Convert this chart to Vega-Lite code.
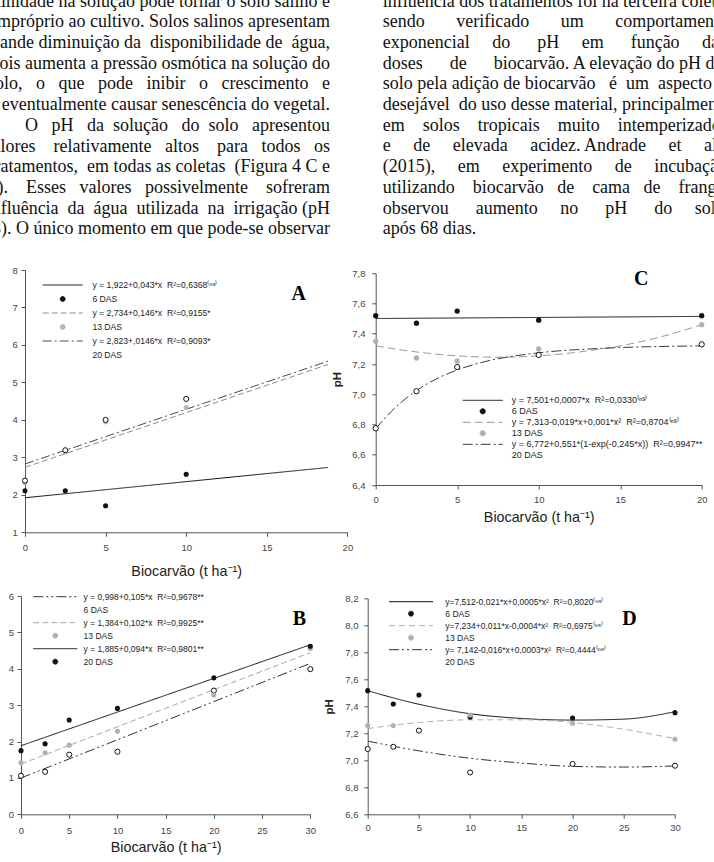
{
  "$schema": "https://vega.github.io/schema/vega-lite/v6.json",
  "padding": 0,
  "background": "white",
  "config": {
    "view": {"stroke": null},
    "axis": {"grid": false, "domainColor": "#555", "domainWidth": 1, "tickColor": "#555", "tickWidth": 1, "tickSize": 4, "labelFont": "Liberation Sans", "labelFontSize": 9.5, "labelColor": "#444", "labelFlush": false, "labelOverlap": false, "titleFont": "Liberation Sans", "titleFontSize": 14.3, "titleFontWeight": "normal", "titleColor": "#222"},
    "axisY": {"titleFontWeight": "bold", "titleFontSize": 11.5, "titleColor": "#222", "labelOverlap": false},
    "axisQuantitative": {"labelOverlap": false},
    "legend": {"orient": "none", "columns": 1, "padding": 0, "rowPadding": 0, "labelFont": "Liberation Sans", "labelColor": "#222", "labelLimit": 500, "symbolStrokeWidth": 1}
  },
  "datasets": {
    "textL": [
      {"col": "L", "line": 1, "text": "salinidade na solução pode tornar o solo salino e"},
      {"col": "L", "line": 2, "text": "impróprio ao cultivo. Solos salinos apresentam"},
      {"col": "L", "line": 3, "text": "grande diminuição da\u00a0\u00a0disponibilidade de\u00a0\u00a0água,"},
      {"col": "L", "line": 4, "text": "pois aumenta a pressão osmótica na solução do"},
      {"col": "L", "line": 5, "text": "solo,\u00a0\u00a0\u00a0o\u00a0\u00a0\u00a0que\u00a0\u00a0\u00a0pode\u00a0\u00a0\u00a0inibir\u00a0\u00a0\u00a0o\u00a0\u00a0\u00a0crescimento\u00a0\u00a0\u00a0e"},
      {"col": "L", "line": 6, "text": "eventualmente causar senescência do vegetal.\u00a0\u00a0\u00a0\u00a0"},
      {"col": "L", "line": 7, "text": "O\u00a0\u00a0\u00a0pH\u00a0\u00a0\u00a0da\u00a0\u00a0solução\u00a0\u00a0\u00a0do\u00a0\u00a0solo\u00a0\u00a0\u00a0apresentou"},
      {"col": "L", "line": 8, "text": "valores\u00a0\u00a0\u00a0\u00a0relativamente\u00a0\u00a0\u00a0altos\u00a0\u00a0\u00a0\u00a0para\u00a0\u00a0\u00a0todos\u00a0\u00a0\u00a0os"},
      {"col": "L", "line": 9, "text": "tratamentos,\u00a0\u00a0em todas as coletas\u00a0\u00a0(Figura 4 C e"},
      {"col": "L", "line": 10, "text": "D).\u00a0\u00a0\u00a0\u00a0Esses\u00a0\u00a0\u00a0valores\u00a0\u00a0\u00a0possivelmente\u00a0\u00a0\u00a0\u00a0sofreram"},
      {"col": "L", "line": 11, "text": "influência\u00a0\u00a0da\u00a0\u00a0água\u00a0\u00a0utilizada\u00a0\u00a0na\u00a0\u00a0irrigação (pH"},
      {"col": "L", "line": 12, "text": "7,3). O único momento em que pode-se observar"}
    ],
    "textR": [
      {"col": "R", "line": 1, "text": "influência dos tratamentos foi na terceira coleta,"},
      {"col": "R", "line": 2, "text": "sendo\u00a0\u00a0\u00a0\u00a0\u00a0\u00a0\u00a0verificado\u00a0\u00a0\u00a0\u00a0\u00a0\u00a0\u00a0um\u00a0\u00a0\u00a0\u00a0\u00a0\u00a0\u00a0comportamento"},
      {"col": "R", "line": 3, "text": "exponencial\u00a0\u00a0\u00a0\u00a0\u00a0do\u00a0\u00a0\u00a0\u00a0\u00a0\u00a0pH\u00a0\u00a0\u00a0\u00a0\u00a0em\u00a0\u00a0\u00a0\u00a0\u00a0\u00a0função\u00a0\u00a0\u00a0\u00a0\u00a0das"},
      {"col": "R", "line": 4, "text": "doses\u00a0\u00a0\u00a0\u00a0\u00a0\u00a0de\u00a0\u00a0\u00a0\u00a0\u00a0\u00a0biocarvão. A elevação do pH do"},
      {"col": "R", "line": 5, "text": "solo pela adição de biocarvão\u00a0\u00a0\u00a0é\u00a0\u00a0um\u00a0\u00a0aspecto"},
      {"col": "R", "line": 6, "text": "desejável\u00a0\u00a0do uso desse material, principalmente"},
      {"col": "R", "line": 7, "text": "em\u00a0\u00a0\u00a0\u00a0solos\u00a0\u00a0\u00a0\u00a0tropicais\u00a0\u00a0\u00a0\u00a0muito\u00a0\u00a0\u00a0\u00a0intemperizados"},
      {"col": "R", "line": 8, "text": "e\u00a0\u00a0\u00a0\u00a0\u00a0de\u00a0\u00a0\u00a0\u00a0\u00a0elevada\u00a0\u00a0\u00a0\u00a0\u00a0acidez. Andrade\u00a0\u00a0\u00a0\u00a0\u00a0et\u00a0\u00a0\u00a0\u00a0\u00a0al."},
      {"col": "R", "line": 9, "text": "(2015),\u00a0\u00a0\u00a0\u00a0\u00a0em\u00a0\u00a0\u00a0\u00a0\u00a0experimento\u00a0\u00a0\u00a0\u00a0\u00a0de\u00a0\u00a0\u00a0\u00a0\u00a0incubação"},
      {"col": "R", "line": 10, "text": "utilizando\u00a0\u00a0\u00a0\u00a0biocarvão\u00a0\u00a0\u00a0de\u00a0\u00a0\u00a0\u00a0cama\u00a0\u00a0\u00a0de\u00a0\u00a0\u00a0\u00a0frango"},
      {"col": "R", "line": 11, "text": "observou\u00a0\u00a0\u00a0\u00a0\u00a0\u00a0aumento\u00a0\u00a0\u00a0\u00a0\u00a0no\u00a0\u00a0\u00a0\u00a0\u00a0\u00a0pH\u00a0\u00a0\u00a0\u00a0\u00a0\u00a0do\u00a0\u00a0\u00a0\u00a0\u00a0solo"},
      {"col": "R", "line": 12, "text": "após 68 dias."}
    ],
    "aFit": [
      {"series": "y = 1,922+0,043*x\u00a0\u00a0R²=0,6368⁽ⁿˢ⁾", "x": 0, "y": 1.922},
      {"series": "y = 1,922+0,043*x\u00a0\u00a0R²=0,6368⁽ⁿˢ⁾", "x": 18.8, "y": 2.73},
      {"series": "y = 2,734+0,146*x\u00a0\u00a0R²=0,9155*", "x": 0, "y": 2.734},
      {"series": "y = 2,734+0,146*x\u00a0\u00a0R²=0,9155*", "x": 18.8, "y": 5.479},
      {"series": "y = 2,823+,0146*x\u00a0\u00a0R²=0,9093*", "x": 0, "y": 2.823},
      {"series": "y = 2,823+,0146*x\u00a0\u00a0R²=0,9093*", "x": 18.8, "y": 5.568}
    ],
    "aPts": [
      {"series": "6 DAS", "x": 0, "y": 2.11}, {"series": "6 DAS", "x": 2.5, "y": 2.11}, {"series": "6 DAS", "x": 5, "y": 1.71}, {"series": "6 DAS", "x": 10, "y": 2.55},
      {"series": "13 DAS", "x": 0, "y": 2.33}, {"series": "13 DAS", "x": 2.5, "y": 3.15}, {"series": "13 DAS", "x": 5, "y": 3.95}, {"series": "13 DAS", "x": 10, "y": 4.33},
      {"series": "20 DAS", "x": 0, "y": 2.38}, {"series": "20 DAS", "x": 2.5, "y": 3.19}, {"series": "20 DAS", "x": 5, "y": 4.0}, {"series": "20 DAS", "x": 10, "y": 4.56}
    ],
    "cFit": [
      {"series": "y = 7,501+0,0007*x\u00a0\u00a0R²=0,0330⁽ⁿˢ⁾", "x": 0, "y": 7.501},
      {"series": "y = 7,501+0,0007*x\u00a0\u00a0R²=0,0330⁽ⁿˢ⁾", "x": 20, "y": 7.515},
      {"series": "y = 7,313-0,019*x+0,001*x²\u00a0\u00a0R²=0,8704⁽ⁿˢ⁾", "x": 0, "y": 7.32},
      {"series": "y = 7,313-0,019*x+0,001*x²\u00a0\u00a0R²=0,8704⁽ⁿˢ⁾", "x": 2.5, "y": 7.28},
      {"series": "y = 7,313-0,019*x+0,001*x²\u00a0\u00a0R²=0,8704⁽ⁿˢ⁾", "x": 5, "y": 7.254},
      {"series": "y = 7,313-0,019*x+0,001*x²\u00a0\u00a0R²=0,8704⁽ⁿˢ⁾", "x": 7.5, "y": 7.245},
      {"series": "y = 7,313-0,019*x+0,001*x²\u00a0\u00a0R²=0,8704⁽ⁿˢ⁾", "x": 10, "y": 7.254},
      {"series": "y = 7,313-0,019*x+0,001*x²\u00a0\u00a0R²=0,8704⁽ⁿˢ⁾", "x": 12.5, "y": 7.28},
      {"series": "y = 7,313-0,019*x+0,001*x²\u00a0\u00a0R²=0,8704⁽ⁿˢ⁾", "x": 15, "y": 7.32},
      {"series": "y = 7,313-0,019*x+0,001*x²\u00a0\u00a0R²=0,8704⁽ⁿˢ⁾", "x": 17.5, "y": 7.38},
      {"series": "y = 7,313-0,019*x+0,001*x²\u00a0\u00a0R²=0,8704⁽ⁿˢ⁾", "x": 20, "y": 7.46},
      {"series": "y = 6,772+0,551*(1-exp(-0,245*x))\u00a0\u00a0R²=0,9947**", "x": 0, "y": 6.772},
      {"series": "y = 6,772+0,551*(1-exp(-0,245*x))\u00a0\u00a0R²=0,9947**", "x": 1, "y": 6.892},
      {"series": "y = 6,772+0,551*(1-exp(-0,245*x))\u00a0\u00a0R²=0,9947**", "x": 2, "y": 6.985},
      {"series": "y = 6,772+0,551*(1-exp(-0,245*x))\u00a0\u00a0R²=0,9947**", "x": 3, "y": 7.059},
      {"series": "y = 6,772+0,551*(1-exp(-0,245*x))\u00a0\u00a0R²=0,9947**", "x": 4, "y": 7.116},
      {"series": "y = 6,772+0,551*(1-exp(-0,245*x))\u00a0\u00a0R²=0,9947**", "x": 5, "y": 7.161},
      {"series": "y = 6,772+0,551*(1-exp(-0,245*x))\u00a0\u00a0R²=0,9947**", "x": 6, "y": 7.196},
      {"series": "y = 6,772+0,551*(1-exp(-0,245*x))\u00a0\u00a0R²=0,9947**", "x": 7.5, "y": 7.235},
      {"series": "y = 6,772+0,551*(1-exp(-0,245*x))\u00a0\u00a0R²=0,9947**", "x": 9, "y": 7.261},
      {"series": "y = 6,772+0,551*(1-exp(-0,245*x))\u00a0\u00a0R²=0,9947**", "x": 11, "y": 7.285},
      {"series": "y = 6,772+0,551*(1-exp(-0,245*x))\u00a0\u00a0R²=0,9947**", "x": 13, "y": 7.299},
      {"series": "y = 6,772+0,551*(1-exp(-0,245*x))\u00a0\u00a0R²=0,9947**", "x": 15, "y": 7.309},
      {"series": "y = 6,772+0,551*(1-exp(-0,245*x))\u00a0\u00a0R²=0,9947**", "x": 17.5, "y": 7.316},
      {"series": "y = 6,772+0,551*(1-exp(-0,245*x))\u00a0\u00a0R²=0,9947**", "x": 20, "y": 7.32}
    ],
    "cPts": [
      {"series": "6 DAS", "x": 0, "y": 7.52}, {"series": "6 DAS", "x": 2.5, "y": 7.47}, {"series": "6 DAS", "x": 5, "y": 7.55}, {"series": "6 DAS", "x": 10, "y": 7.49}, {"series": "6 DAS", "x": 20, "y": 7.52},
      {"series": "13 DAS", "x": 0, "y": 7.35}, {"series": "13 DAS", "x": 2.5, "y": 7.24}, {"series": "13 DAS", "x": 5, "y": 7.22}, {"series": "13 DAS", "x": 10, "y": 7.3}, {"series": "13 DAS", "x": 20, "y": 7.46},
      {"series": "20 DAS", "x": 0, "y": 6.775}, {"series": "20 DAS", "x": 2.5, "y": 7.02}, {"series": "20 DAS", "x": 5, "y": 7.18}, {"series": "20 DAS", "x": 10, "y": 7.26}, {"series": "20 DAS", "x": 20, "y": 7.33}
    ],
    "bFit": [
      {"series": "y = 0,998+0,105*x\u00a0\u00a0R²=0,9678**", "x": 0, "y": 0.998},
      {"series": "y = 0,998+0,105*x\u00a0\u00a0R²=0,9678**", "x": 30, "y": 4.148},
      {"series": "y = 1,384+0,102*x\u00a0\u00a0R²=0,9925**", "x": 0, "y": 1.384},
      {"series": "y = 1,384+0,102*x\u00a0\u00a0R²=0,9925**", "x": 30, "y": 4.444},
      {"series": "y = 1,885+0,094*x\u00a0\u00a0R²=0,9801**", "x": 0, "y": 1.885},
      {"series": "y = 1,885+0,094*x\u00a0\u00a0R²=0,9801**", "x": 30, "y": 4.66}
    ],
    "bPts": [
      {"series": "6 DAS", "x": 0, "y": 1.06}, {"series": "6 DAS", "x": 2.5, "y": 1.17}, {"series": "6 DAS", "x": 5, "y": 1.64}, {"series": "6 DAS", "x": 10, "y": 1.72}, {"series": "6 DAS", "x": 20, "y": 3.4}, {"series": "6 DAS", "x": 30, "y": 3.99},
      {"series": "13 DAS", "x": 0, "y": 1.42}, {"series": "13 DAS", "x": 2.5, "y": 1.69}, {"series": "13 DAS", "x": 5, "y": 1.9}, {"series": "13 DAS", "x": 10, "y": 2.28}, {"series": "13 DAS", "x": 20, "y": 3.28}, {"series": "13 DAS", "x": 30, "y": 4.56},
      {"series": "20 DAS", "x": 0, "y": 1.75}, {"series": "20 DAS", "x": 2.5, "y": 1.94}, {"series": "20 DAS", "x": 5, "y": 2.59}, {"series": "20 DAS", "x": 10, "y": 2.91}, {"series": "20 DAS", "x": 20, "y": 3.75}, {"series": "20 DAS", "x": 30, "y": 4.62}
    ],
    "dFit": [
      {"series": "y=7,512-0,021*x+0,0005*x²\u00a0\u00a0R²=0,8020⁽ⁿˢ⁾", "x": 0, "y": 7.515},
      {"series": "y=7,512-0,021*x+0,0005*x²\u00a0\u00a0R²=0,8020⁽ⁿˢ⁾", "x": 5, "y": 7.415},
      {"series": "y=7,512-0,021*x+0,0005*x²\u00a0\u00a0R²=0,8020⁽ⁿˢ⁾", "x": 10, "y": 7.345},
      {"series": "y=7,512-0,021*x+0,0005*x²\u00a0\u00a0R²=0,8020⁽ⁿˢ⁾", "x": 15, "y": 7.31},
      {"series": "y=7,512-0,021*x+0,0005*x²\u00a0\u00a0R²=0,8020⁽ⁿˢ⁾", "x": 20, "y": 7.298},
      {"series": "y=7,512-0,021*x+0,0005*x²\u00a0\u00a0R²=0,8020⁽ⁿˢ⁾", "x": 25, "y": 7.305},
      {"series": "y=7,512-0,021*x+0,0005*x²\u00a0\u00a0R²=0,8020⁽ⁿˢ⁾", "x": 30, "y": 7.36},
      {"series": "y=7,234+0,011*x-0,0004*x²\u00a0\u00a0R²=0,6975⁽ⁿˢ⁾", "x": 0, "y": 7.235},
      {"series": "y=7,234+0,011*x-0,0004*x²\u00a0\u00a0R²=0,6975⁽ⁿˢ⁾", "x": 5, "y": 7.28},
      {"series": "y=7,234+0,011*x-0,0004*x²\u00a0\u00a0R²=0,6975⁽ⁿˢ⁾", "x": 10, "y": 7.3},
      {"series": "y=7,234+0,011*x-0,0004*x²\u00a0\u00a0R²=0,6975⁽ⁿˢ⁾", "x": 15, "y": 7.3},
      {"series": "y=7,234+0,011*x-0,0004*x²\u00a0\u00a0R²=0,6975⁽ⁿˢ⁾", "x": 20, "y": 7.28},
      {"series": "y=7,234+0,011*x-0,0004*x²\u00a0\u00a0R²=0,6975⁽ⁿˢ⁾", "x": 25, "y": 7.23},
      {"series": "y=7,234+0,011*x-0,0004*x²\u00a0\u00a0R²=0,6975⁽ⁿˢ⁾", "x": 30, "y": 7.16},
      {"series": "y= 7,142-0,016*x+0,0003*x²\u00a0\u00a0R²=0,4444⁽ⁿˢ⁾", "x": 0, "y": 7.142},
      {"series": "y= 7,142-0,016*x+0,0003*x²\u00a0\u00a0R²=0,4444⁽ⁿˢ⁾", "x": 5, "y": 7.07},
      {"series": "y= 7,142-0,016*x+0,0003*x²\u00a0\u00a0R²=0,4444⁽ⁿˢ⁾", "x": 10, "y": 7.015},
      {"series": "y= 7,142-0,016*x+0,0003*x²\u00a0\u00a0R²=0,4444⁽ⁿˢ⁾", "x": 15, "y": 6.98},
      {"series": "y= 7,142-0,016*x+0,0003*x²\u00a0\u00a0R²=0,4444⁽ⁿˢ⁾", "x": 20, "y": 6.955},
      {"series": "y= 7,142-0,016*x+0,0003*x²\u00a0\u00a0R²=0,4444⁽ⁿˢ⁾", "x": 25, "y": 6.95},
      {"series": "y= 7,142-0,016*x+0,0003*x²\u00a0\u00a0R²=0,4444⁽ⁿˢ⁾", "x": 30, "y": 6.958}
    ],
    "dPts": [
      {"series": "6 DAS", "x": 0, "y": 7.516}, {"series": "6 DAS", "x": 2.5, "y": 7.417}, {"series": "6 DAS", "x": 5, "y": 7.484}, {"series": "6 DAS", "x": 10, "y": 7.32}, {"series": "6 DAS", "x": 20, "y": 7.313}, {"series": "6 DAS", "x": 30, "y": 7.353},
      {"series": "13 DAS", "x": 0, "y": 7.257}, {"series": "13 DAS", "x": 2.5, "y": 7.257}, {"series": "13 DAS", "x": 5, "y": 7.22}, {"series": "13 DAS", "x": 10, "y": 7.336}, {"series": "13 DAS", "x": 20, "y": 7.274}, {"series": "13 DAS", "x": 30, "y": 7.156},
      {"series": "20 DAS", "x": 0, "y": 7.084}, {"series": "20 DAS", "x": 2.5, "y": 7.1}, {"series": "20 DAS", "x": 5, "y": 7.22}, {"series": "20 DAS", "x": 10, "y": 6.91}, {"series": "20 DAS", "x": 20, "y": 6.973}, {"series": "20 DAS", "x": 30, "y": 6.96}
    ]
  },
  "spacing": -36.3,
  "resolve": {"scale": {"color": "independent", "strokeDash": "independent"}, "legend": {"color": "independent", "strokeDash": "independent"}},
  "hconcat": [
    {
      "spacing": 10,
      "resolve": {"scale": {"color": "independent", "strokeDash": "independent"}, "legend": {"color": "independent", "strokeDash": "independent"}},
      "vconcat": [
        {
          "width": 360,
          "height": 255,
          "data": {"name": "textL"},
          "mark": {"type": "text", "align": "right", "baseline": "alphabetic", "font": "Liberation Serif", "fontSize": 18, "color": "#111", "clip": true},
          "encoding": {
            "x": {"field": "col", "type": "nominal", "scale": {"type": "point", "align": 0.916667, "padding": 0}, "axis": null},
            "y": {"field": "line", "type": "ordinal", "scale": {"type": "point", "padding": 0.6594, "align": 0.2418}, "axis": null},
            "text": {"field": "text", "type": "nominal"}
          }
        },
        {
          "bounds": "flush",
          "spacing": 0,
          "resolve": {"scale": {"color": "independent", "strokeDash": "independent"}, "legend": {"color": "independent", "strokeDash": "independent"}},
          "hconcat": [
            {"width": 24.3, "height": 1, "data": {"values": []}, "mark": "point"},
            {
              "width": 322.4,
              "height": 262.3,
              "resolve": {"axis": {"x": "independent"}},
              "layer": [
                {
                  "data": {"name": "aFit"},
                  "mark": {"type": "line", "strokeWidth": 1, "interpolate": "monotone"},
                  "encoding": {
                    "x": {"field": "x", "type": "quantitative", "scale": {"domain": [0, 20], "nice": false}, "axis": {"values": [0, 5, 10, 15, 20], "labelOverlap": false, "title": "Biocarvão (t ha⁻¹)", "labelPadding": 6, "titlePadding": 13}},
                    "y": {"field": "y", "type": "quantitative", "scale": {"domain": [1, 8], "nice": false, "zero": false}, "axis": {"values": [1, 2, 3, 4, 5, 6, 7, 8], "labelOverlap": false, "title": null, "labelPadding": 3.6}},
                    "color": {
                      "field": "series", "type": "nominal",
                      "scale": {"domain": ["y = 1,922+0,043*x\u00a0\u00a0R²=0,6368⁽ⁿˢ⁾", "6 DAS", "y = 2,734+0,146*x\u00a0\u00a0R²=0,9155*", "13 DAS", "y = 2,823+,0146*x\u00a0\u00a0R²=0,9093*", "20 DAS"], "range": ["#111111", "#111111", "#8c8c8c", "#b4b4b4", "#4a4a4a", "#ffffff"]},
                      "legend": {
                        "title": null, "legendX": 17.2, "legendY": 8.4, "clipHeight": 13.2, "labelOffset": 9.2, "labelFontSize": 8.6, "symbolSize": 1600,
                        "encode": {"symbols": {"update": {
                          "shape": {"signal": "datum.index % 2 == 1 ? 'circle' : 'stroke'"},
                          "size": {"signal": "datum.index % 2 == 1 ? 24 : 1600"},
                          "fill": {"signal": "['transparent','#111111','transparent','#b4b4b4','transparent','#ffffff'][datum.index]"},
                          "stroke": {"signal": "['#111111','#111111','#8c8c8c','#b4b4b4','#4a4a4a','#111111'][datum.index]"},
                          "strokeDash": {"signal": "[[1,0],[1,0],[6,3],[1,0],[9,3,2,3],[1,0]][datum.index]"},
                          "strokeWidth": {"value": 1},
                          "opacity": {"value": 1}
                        }}}
                      }
                    },
                    "strokeDash": {"field": "series", "type": "nominal", "scale": {"domain": ["y = 1,922+0,043*x\u00a0\u00a0R²=0,6368⁽ⁿˢ⁾", "y = 2,734+0,146*x\u00a0\u00a0R²=0,9155*", "y = 2,823+,0146*x\u00a0\u00a0R²=0,9093*"], "range": [[1, 0], [6, 3], [9, 3, 2, 3]]}, "legend": null}
                  }
                },
                {
                  "data": {"name": "aPts"},
                  "mark": {"type": "point", "filled": true, "size": 26, "stroke": "#111111", "opacity": 1},
                  "encoding": {
                    "x": {"field": "x", "type": "quantitative", "axis": {"orient": "top", "domain": false, "ticks": false, "labels": false, "title": "A", "titleX": 273.2, "titleY": 23, "titleAngle": 0, "titleAlign": "center", "titleBaseline": "middle", "titleFont": "Liberation Serif", "titleFontSize": 20, "titleFontWeight": "bold", "titleColor": "#000"}},
                    "y": {"field": "y", "type": "quantitative", "axis": {"values": [1, 2, 3, 4, 5, 6, 7, 8], "labelOverlap": false, "title": null, "labelPadding": 3.6}},
                    "color": {"field": "series", "type": "nominal"},
                    "strokeWidth": {"condition": {"test": "datum.series == '20 DAS'", "value": 1}, "value": 0}
                  }
                }
              ]
            }
          ]
        },
        {
          "bounds": "flush",
          "spacing": 0,
          "resolve": {"scale": {"color": "independent", "strokeDash": "independent"}, "legend": {"color": "independent", "strokeDash": "independent"}},
          "hconcat": [
            {"width": 20.7, "height": 1, "data": {"values": []}, "mark": "point"},
            {
              "width": 289.3,
              "height": 218.3,
              "resolve": {"axis": {"x": "independent"}},
              "layer": [
                {
                  "data": {"name": "bFit"},
                  "mark": {"type": "line", "strokeWidth": 1, "interpolate": "monotone"},
                  "encoding": {
                    "x": {"field": "x", "type": "quantitative", "scale": {"domain": [0, 30], "nice": false}, "axis": {"values": [0, 5, 10, 15, 20, 25, 30], "labelOverlap": false, "title": "Biocarvão (t ha⁻¹)", "labelPadding": 7, "titlePadding": 6}},
                    "y": {"field": "y", "type": "quantitative", "scale": {"domain": [0, 6], "nice": false}, "axis": {"values": [0, 1, 2, 3, 4, 5, 6], "labelOverlap": false, "title": null, "labelPadding": 3.4}},
                    "color": {
                      "field": "series", "type": "nominal",
                      "scale": {"domain": ["y = 0,998+0,105*x\u00a0\u00a0R²=0,9678**", "6 DAS", "y = 1,384+0,102*x\u00a0\u00a0R²=0,9925**", "13 DAS", "y = 1,885+0,094*x\u00a0\u00a0R²=0,9801**", "20 DAS"], "range": ["#333333", "#ffffff", "#a8a8a8", "#b0b0b0", "#111111", "#111111"]},
                      "legend": {
                        "title": null, "legendX": 11.8, "legendY": -5.7, "clipHeight": 12.8, "labelOffset": 5.8, "labelFontSize": 8.5, "symbolSize": 1936,
                        "encode": {"symbols": {"update": {
                          "shape": {"signal": "datum.index % 2 == 1 ? 'circle' : 'stroke'"},
                          "size": {"signal": "datum.index % 2 == 1 ? 24 : 1936"},
                          "fill": {"signal": "['transparent','#ffffff','transparent','#b0b0b0','transparent','#111111'][datum.index]"},
                          "stroke": {"signal": "['#333333','#111111','#a8a8a8','#b0b0b0','#111111','#111111'][datum.index]"},
                          "strokeDash": {"signal": "[[10,3,2,3,2,3],[1,0],[6,3],[1,0],[1,0],[1,0]][datum.index]"},
                          "strokeWidth": {"value": 1},
                          "opacity": {"value": 1}
                        }}}
                      }
                    },
                    "strokeDash": {"field": "series", "type": "nominal", "scale": {"domain": ["y = 0,998+0,105*x\u00a0\u00a0R²=0,9678**", "y = 1,384+0,102*x\u00a0\u00a0R²=0,9925**", "y = 1,885+0,094*x\u00a0\u00a0R²=0,9801**"], "range": [[10, 3, 2, 3, 2, 3], [6, 3], [1, 0]]}, "legend": null}
                  }
                },
                {
                  "data": {"name": "bPts"},
                  "mark": {"type": "point", "filled": true, "size": 26, "stroke": "#111111", "opacity": 1},
                  "encoding": {
                    "x": {"field": "x", "type": "quantitative", "axis": {"orient": "top", "domain": false, "ticks": false, "labels": false, "title": "B", "titleX": 277.8, "titleY": 22.3, "titleAngle": 0, "titleAlign": "center", "titleBaseline": "middle", "titleFont": "Liberation Serif", "titleFontSize": 20, "titleFontWeight": "bold", "titleColor": "#000"}},
                    "y": {"field": "y", "type": "quantitative", "axis": {"values": [0, 1, 2, 3, 4, 5, 6], "labelOverlap": false, "title": null, "labelPadding": 3.4}},
                    "color": {"field": "series", "type": "nominal"},
                    "strokeWidth": {"condition": {"test": "datum.series == '6 DAS'", "value": 1}, "value": 0}
                  }
                }
              ]
            }
          ]
        }
      ]
    },
    {
      "spacing": 27.3,
      "resolve": {"scale": {"color": "independent", "strokeDash": "independent"}, "legend": {"color": "independent", "strokeDash": "independent"}},
      "vconcat": [
        {
          "bounds": "flush",
          "spacing": 0,
          "hconcat": [
            {"width": 14.3, "height": 1, "data": {"values": []}, "mark": "point"},
            {
              "width": 331,
              "height": 240.9,
              "data": {"name": "textR"},
              "mark": {"type": "text", "align": "left", "baseline": "alphabetic", "font": "Liberation Serif", "fontSize": 18, "color": "#111", "clip": true},
              "encoding": {
                "x": {"field": "col", "type": "nominal", "scale": {"type": "point", "align": 0, "padding": 0}, "axis": null},
                "y": {"field": "line", "type": "ordinal", "scale": {"type": "point", "padding": 0.319, "align": 0.5}, "axis": null},
                "text": {"field": "text", "type": "nominal"}
              }
            }
          ]
        },
        {
          "spacing": 68,
          "resolve": {"scale": {"color": "independent", "strokeDash": "independent"}, "legend": {"color": "independent", "strokeDash": "independent"}},
          "vconcat": [
            {
              "bounds": "flush",
              "spacing": 0,
              "resolve": {"scale": {"color": "independent", "strokeDash": "independent"}, "legend": {"color": "independent", "strokeDash": "independent"}},
              "hconcat": [
                {"width": 7.3, "height": 1, "data": {"values": []}, "mark": "point"},
                {
                  "width": 326,
                  "height": 211.7,
                  "resolve": {"axis": {"x": "independent"}},
                  "layer": [
                    {
                      "data": {"name": "cFit"},
                      "mark": {"type": "line", "strokeWidth": 1, "interpolate": "monotone"},
                      "encoding": {
                        "x": {"field": "x", "type": "quantitative", "scale": {"domain": [0, 20], "nice": false}, "axis": {"values": [0, 5, 10, 15, 20], "labelOverlap": false, "title": "Biocarvão (t ha⁻¹)", "labelPadding": 5.2, "titlePadding": 6.8}},
                        "y": {"field": "y", "type": "quantitative", "scale": {"domain": [6.4, 7.8], "nice": false, "zero": false}, "axis": {"values": [6.4, 6.6, 6.8, 7.0, 7.2, 7.4, 7.6, 7.8], "labelOverlap": false, "labelExpr": "replace(format(datum.value, '.1f'), '.', ',')", "title": "pH", "labelPadding": 6.7, "titlePadding": 9}},
                        "color": {
                          "field": "series", "type": "nominal",
                          "scale": {"domain": ["y = 7,501+0,0007*x\u00a0\u00a0R²=0,0330⁽ⁿˢ⁾", "6 DAS", "y = 7,313-0,019*x+0,001*x²\u00a0\u00a0R²=0,8704⁽ⁿˢ⁾", "13 DAS", "y = 6,772+0,551*(1-exp(-0,245*x))\u00a0\u00a0R²=0,9947**", "20 DAS"], "range": ["#111111", "#111111", "#9a9a9a", "#b0b0b0", "#3a3a4a", "#ffffff"]},
                          "legend": {
                            "title": null, "legendX": 86.5, "legendY": 121.65, "clipHeight": 10.74, "labelOffset": 8.5, "labelFontSize": 9, "symbolSize": 1600,
                            "encode": {"symbols": {"update": {
                              "shape": {"signal": "datum.index % 2 == 1 ? 'circle' : 'stroke'"},
                              "size": {"signal": "datum.index % 2 == 1 ? 26 : 1600"},
                              "fill": {"signal": "['transparent','#111111','transparent','#b0b0b0','transparent','#ffffff'][datum.index]"},
                              "stroke": {"signal": "['#111111','#111111','#9a9a9a','#b0b0b0','#3a3a4a','#111111'][datum.index]"},
                              "strokeDash": {"signal": "[[1,0],[1,0],[8,4],[1,0],[10,3,2,3],[1,0]][datum.index]"},
                              "strokeWidth": {"value": 1},
                              "opacity": {"value": 1}
                            }}}
                          }
                        },
                        "strokeDash": {"field": "series", "type": "nominal", "scale": {"domain": ["y = 7,501+0,0007*x\u00a0\u00a0R²=0,0330⁽ⁿˢ⁾", "y = 7,313-0,019*x+0,001*x²\u00a0\u00a0R²=0,8704⁽ⁿˢ⁾", "y = 6,772+0,551*(1-exp(-0,245*x))\u00a0\u00a0R²=0,9947**"], "range": [[1, 0], [8, 4], [10, 3, 2, 3]]}, "legend": null}
                      }
                    },
                    {
                      "data": {"name": "cPts"},
                      "mark": {"type": "point", "filled": true, "size": 28, "stroke": "#111111", "opacity": 1},
                      "encoding": {
                        "x": {"field": "x", "type": "quantitative", "axis": {"orient": "top", "domain": false, "ticks": false, "labels": false, "title": "C", "titleX": 265, "titleY": 5, "titleAngle": 0, "titleAlign": "center", "titleBaseline": "middle", "titleFont": "Liberation Serif", "titleFontSize": 20, "titleFontWeight": "bold", "titleColor": "#000"}},
                        "y": {"field": "y", "type": "quantitative", "axis": {"values": [6.4, 6.6, 6.8, 7.0, 7.2, 7.4, 7.6, 7.8], "labelOverlap": false, "labelExpr": "replace(format(datum.value, '.1f'), '.', ',')", "title": "pH", "labelPadding": 6.7, "titlePadding": 9}},
                        "color": {"field": "series", "type": "nominal"},
                        "strokeWidth": {"condition": {"test": "datum.series == '20 DAS'", "value": 1}, "value": 0}
                      }
                    }
                  ]
                }
              ]
            },
            {
              "width": 307.3,
              "height": 216,
              "resolve": {"axis": {"x": "independent"}},
              "layer": [
                {
                  "data": {"name": "dFit"},
                  "mark": {"type": "line", "strokeWidth": 1, "interpolate": "monotone"},
                  "encoding": {
                    "x": {"field": "x", "type": "quantitative", "scale": {"domain": [0, 30], "nice": false}, "axis": {"values": [0, 5, 10, 15, 20, 25, 30], "labelOverlap": false, "title": null, "labelPadding": 4.3}},
                    "y": {"field": "y", "type": "quantitative", "scale": {"domain": [6.6, 8.2], "nice": false, "zero": false}, "axis": {"values": [6.6, 6.8, 7.0, 7.2, 7.4, 7.6, 7.8, 8.0, 8.2], "labelOverlap": false, "labelExpr": "replace(format(datum.value, '.1f'), '.', ',')", "title": "pH", "labelPadding": 5.7, "titlePadding": 10}},
                    "color": {
                      "field": "series", "type": "nominal",
                      "scale": {"domain": ["y=7,512-0,021*x+0,0005*x²\u00a0\u00a0R²=0,8020⁽ⁿˢ⁾", "6 DAS", "y=7,234+0,011*x-0,0004*x²\u00a0\u00a0R²=0,6975⁽ⁿˢ⁾", "13 DAS", "y= 7,142-0,016*x+0,0003*x²\u00a0\u00a0R²=0,4444⁽ⁿˢ⁾", "20 DAS"], "range": ["#111111", "#111111", "#b0b0b0", "#b0b0b0", "#333333", "#ffffff"]},
                      "legend": {
                        "title": null, "legendX": 20.8, "legendY": -2.26, "clipHeight": 11.32, "labelOffset": 11.8, "labelFontSize": 8.5, "symbolSize": 1936,
                        "encode": {"symbols": {"update": {
                          "shape": {"signal": "datum.index % 2 == 1 ? 'circle' : 'stroke'"},
                          "size": {"signal": "datum.index % 2 == 1 ? 24 : 1936"},
                          "fill": {"signal": "['transparent','#111111','transparent','#b0b0b0','transparent','#ffffff'][datum.index]"},
                          "stroke": {"signal": "['#111111','#111111','#b0b0b0','#b0b0b0','#333333','#111111'][datum.index]"},
                          "strokeDash": {"signal": "[[1,0],[1,0],[6,4],[1,0],[10,3,2,3,2,3],[1,0]][datum.index]"},
                          "strokeWidth": {"value": 1},
                          "opacity": {"value": 1}
                        }}}
                      }
                    },
                    "strokeDash": {"field": "series", "type": "nominal", "scale": {"domain": ["y=7,512-0,021*x+0,0005*x²\u00a0\u00a0R²=0,8020⁽ⁿˢ⁾", "y=7,234+0,011*x-0,0004*x²\u00a0\u00a0R²=0,6975⁽ⁿˢ⁾", "y= 7,142-0,016*x+0,0003*x²\u00a0\u00a0R²=0,4444⁽ⁿˢ⁾"], "range": [[1, 0], [6, 4], [10, 3, 2, 3, 2, 3]]}, "legend": null}
                  }
                },
                {
                  "data": {"name": "dPts"},
                  "mark": {"type": "point", "filled": true, "size": 26, "stroke": "#111111", "opacity": 1},
                  "encoding": {
                    "x": {"field": "x", "type": "quantitative", "axis": {"orient": "top", "domain": false, "ticks": false, "labels": false, "title": "D", "titleX": 261.3, "titleY": 20, "titleAngle": 0, "titleAlign": "center", "titleBaseline": "middle", "titleFont": "Liberation Serif", "titleFontSize": 20, "titleFontWeight": "bold", "titleColor": "#000"}},
                    "y": {"field": "y", "type": "quantitative", "axis": {"values": [6.6, 6.8, 7.0, 7.2, 7.4, 7.6, 7.8, 8.0, 8.2], "labelOverlap": false, "labelExpr": "replace(format(datum.value, '.1f'), '.', ',')", "title": "pH", "labelPadding": 5.7, "titlePadding": 10}},
                    "color": {"field": "series", "type": "nominal"},
                    "strokeWidth": {"condition": {"test": "datum.series == '20 DAS'", "value": 1}, "value": 0}
                  }
                }
              ]
            }
          ]
        }
      ]
    }
  ]
}
